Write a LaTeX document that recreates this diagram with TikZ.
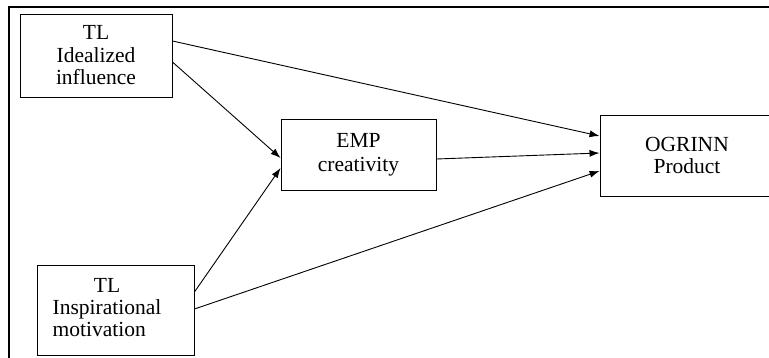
\documentclass[tikz,border=0pt]{standalone}
\usepackage{fontspec}
\setmainfont{Liberation Serif}
\usetikzlibrary{arrows.meta}
\tikzset{
	varbox/.style={draw,line width=0.9pt,align=center,inner sep=0pt,
		font=\fontsize{21.5}{22.5}\selectfont},
	path/.style={line width=0.9pt,-{Latex[length=10pt,width=7pt]}}
}
\begin{document}
\begin{tikzpicture}[x=1pt,y=-1pt]
			\clip (0,0) rectangle (769,358);
			\draw[line width=2pt] (9,365) -- (9,7) -- (775,7);
			\node[varbox,minimum width=152pt,minimum height=83pt] (idinf) at (96,55.5){TL\\Idealized\\influence};
			\node[varbox,minimum width=157pt,minimum height=90pt] (inmot) at (115.5,310){\begin{tabular}{@{}l@{\hspace{17pt}}}\multicolumn{1}{@{}c@{\hspace{17pt}}}{TL}\\Inspirational\\motivation\end{tabular}};
			\node[varbox,minimum width=155pt,minimum height=71pt] (empcr) at (358.5,154.5){EMP\\[1.5pt]creativity};
			\node[varbox,minimum width=174pt,minimum height=81pt] (ogprod) at (687,155.5){OGRINN\\Product};
			\draw[path] ([yshift=14.5pt]idinf.east) -- ([yshift=19.5pt]ogprod.west);
			\draw[path] ([yshift=-6.5pt]idinf.east) -- ([yshift=-3.5pt]empcr.west);
			\draw[path] ([yshift=-4.5pt]empcr.east) -- ([yshift=2.5pt]ogprod.west);
			\draw[path] ([yshift=18pt]inmot.east) -- ([yshift=-13.5pt]empcr.west);
			\draw[path] ([yshift=1pt]inmot.east) -- ([yshift=-15.5pt]ogprod.west);
		\end{tikzpicture}
\end{document}
